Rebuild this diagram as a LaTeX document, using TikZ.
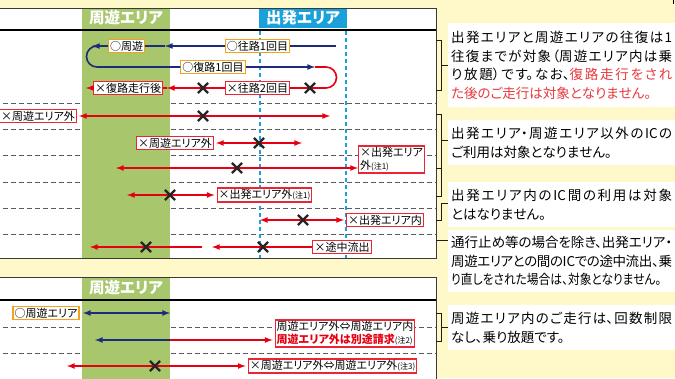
\documentclass[tikz,border=0pt]{standalone}
\usepackage{fontspec}
\setmainfont{Noto Sans CJK JP}[RawFeature=+palt]
\usetikzlibrary{shapes.misc}
\definecolor{bgyellow}{HTML}{FFF8C8}
\definecolor{areagreen}{HTML}{A8C66C}
\definecolor{areablue}{HTML}{1AA0DB}
\definecolor{routenavy}{HTML}{1E2A7A}
\definecolor{routered}{HTML}{E60012}
\definecolor{okorange}{HTML}{F3A31B}
\definecolor{rulegray}{HTML}{3A3A3A}
\definecolor{notered}{HTML}{E8383D}
\newcommand\notesize{\fontsize{8}{9}\selectfont}
\XeTeXlinebreaklocale "ja"
\XeTeXlinebreakskip=0pt plus 3pt minus 2pt

\begin{document}
\begin{tikzpicture}[x=1pt,y=-1pt]
		\tikzstyle{okbox} = [draw=okorange, fill=white, line width=1.1pt, inner sep=1.6pt, font={\fontsize{11}{13}\selectfont}]
		\tikzstyle{ngbox} = [okbox, draw=routered!85]
		\tikzstyle{xmark} = [cross out, draw=black!85, line width=2.2pt, minimum size=8pt, inner sep=0pt]
		\tikzstyle{navyline} = [draw=routenavy, line width=1.6pt]
		\tikzstyle{redline} = [draw=routered, line width=1.6pt]
		\tikzstyle{rowline} = [draw=black!65, dash pattern=on 5pt off 3pt, line width=0.9pt]
		\tikzstyle{arealine} = [draw=areablue, dash pattern=on 4pt off 3pt, line width=1.8pt]
		\tikzstyle{areahead} = [text=white, font={\bfseries\fontsize{15.5}{15.5}\selectfont}, minimum height=20pt, minimum width=88pt, inner sep=0pt]
		\tikzstyle{note} = [fill=white, text width=221pt, align=justify, inner xsep=3pt, inner ysep=0pt, anchor=north west, font={\fontsize{13.5}{18.6}\selectfont}]
		\tikzstyle{notebrace} = [draw=black!80!brown, line width=1pt]

		\useasboundingbox (0,0) rectangle (675,378);
		\clip (0,0) rectangle (675,378);
		\fill[bgyellow] (0,0) rectangle (675,378);
		\draw[black, line width=1pt] (673,0) -- (673,4);

		% upper table
		\fill[white] (-5,8) rectangle (436,258);
		\foreach \y in {103,129,155,182,208,234}
			\draw[rowline] (-5,\y) -- (436,\y);
		\fill[areagreen] (82,8) rectangle (170,258);
		\node[areahead] (tourhead) at (126,18) {周遊エリア};
		\node[areahead, fill=areablue] (dephead) at (303,18) {出発エリア};
		\draw[arealine] (260,31) -- (260,258);
		\draw[arealine] (346,31) -- (346,258);
		\draw[rulegray, line width=1pt] (-5,8) -- (436,8) -- (436,258) -- (-5,258);
		\draw[black, line width=2.5pt] (-5,30) -- (436,30);

		% round trip
		\node[okbox] (okgo1) at (257.5,46) {○往路1回目};
		\node[okbox] (okloop) at (126.5,46) {○周遊};
		\node[okbox] (okback1) at (213,67) {○復路1回目};
		\node[ngbox] (nggo2) at (257.5,88) {×往路2回目};
		\node[ngbox] (ngafter) at (128,88) {×復路走行後};
		\coordinate (go1start) at (336,46);
		\coordinate (go1mid) at (165,46);
		\coordinate (loopend) at (92,46);
		\coordinate (loopturn) at (97,46);
		\coordinate (back1end) at (315,67);
		\coordinate (go2mid) at (167,88);
		\coordinate (go2end) at (86,88);
		\draw[navyline] (go1start) -- (okgo1);
		\draw[navyline, -latex] (okgo1) -- (go1mid);
		\draw[navyline] (go1mid) -- (okloop);
		\draw[navyline, -latex] (okloop) -- (loopend);
		\draw[navyline] (loopturn) arc[start angle=90, end angle=270, radius=10.5pt] -- (okback1);
		\draw[navyline, -latex] (okback1) -- (back1end);
		\draw[redline] (back1end) -- ++(11,0) arc[start angle=90, end angle=-90, radius=10.5pt] -- (nggo2);
		\draw[redline, -latex] (nggo2) -- (go2mid);
		\draw[redline] (go2mid) -- (ngafter);
		\draw[redline, -latex] (ngafter) -- (go2end);

		% other rows
		\node[ngbox] (ngtour1) at (38,116) {×周遊エリア外};
		\coordinate (r2e) at (330,116);
		\draw[redline, latex-latex, shorten <=2pt] (ngtour1) -- (r2e);

		\node[ngbox] (ngtour2) at (175,143) {×周遊エリア外};
		\coordinate (r3e) at (302,143);
		\draw[redline, latex-latex, shorten <=2pt] (ngtour2) -- (r3e);

		\node[ngbox, align=left] (ngdep1) at (391.5,159.5) {×出発エリア\\外{\notesize(注1)}};
		\coordinate (r4w) at (116,168);
		\draw[redline, latex-latex] (r4w) -- (r4w -| ngdep1.west);

		\node[ngbox] (ngdep2) at (264.5,195) {×出発エリア外{\notesize(注1)}};
		\coordinate (r5w) at (127,195);
		\draw[redline, latex-latex, shorten >=2pt] (r5w) -- (ngdep2);

		\node[ngbox] (ngdep3) at (385,220) {×出発エリア内};
		\coordinate (r6w) at (260,220);
		\draw[redline, latex-latex, shorten >=2pt] (r6w) -- (ngdep3);

		\node[ngbox] (ngexit) at (342,247) {×途中流出};
		\coordinate (r7a) at (202,247);
		\coordinate (r7b) at (90,247);
		\coordinate (r7c) at (212,247);
		\draw[redline, -latex] (ngexit) -- (r7c);
		\draw[redline, -latex] (r7a) -- (r7b);

		% lower table
		\fill[white] (-5,277) rectangle (436,385);
		\foreach \y in {327,353}
			\draw[rowline] (-5,\y) -- (436,\y);
		\fill[areagreen] (82,277) rectangle (170,385);
		\node[areahead] (tourhead2) at (126,288) {周遊エリア};
		\draw[rulegray, line width=1pt] (-5,277) -- (436,277) -- (436,385);
		\draw[black, line width=2.5pt] (-5,300) -- (436,300);

		\node[okbox] (oktour) at (46,313) {○周遊エリア};
		\coordinate (b1w) at (83,313);
		\coordinate (b1e) at (170,313);
		\draw[navyline, latex-latex] (b1w) -- (b1e);

		\node[ngbox, align=left] (ngcharge) at (345,333.5) {周遊エリア外⇔周遊エリア内\\{\color{routered}\bfseries 周遊エリア外は別途請求}{\notesize(注2)}};
		\coordinate (b2w) at (95,340);
		\coordinate (b2m) at (170,340);
		\draw[navyline, -latex] (b2m) -- (b2w);
		\draw[redline, -latex, shorten >=2pt] (b2m) -- (b2m -| ngcharge.west);

		\node[ngbox] (ngtour3) at (332.5,366) {×周遊エリア外⇔周遊エリア外{\notesize(注3)}};
		\coordinate (b3w) at (67,366);
		\draw[redline, latex-latex, shorten >=2pt] (b3w) -- (ngtour3);

		% crosses
		\foreach \p in {(203,88),(310,88),(203,116),(259,143),(237,168),(170,195),(303,220),(146,247),(263,247),(155,366)}
			\node[xmark] at \p {};

		% notes
		\node[note, minimum height=84pt] (note1) at (448,23) {出発エリアと周遊エリアの往復は1\linebreak 往復までが対象（周遊エリア内は乗\linebreak り放題）です。なお、{\color{notered}復路走行をされ\linebreak た後のご走行は対象となりません。}};
		\node[note, minimum height=45pt] (note2) at (448,120) {出発エリア・周遊エリア以外のICの\linebreak ご利用は対象となりません。};
		\node[note, minimum height=45pt] (note3) at (448,182) {出発エリア内のIC間の利用は対象\linebreak とはなりません。};
		\node[note, minimum height=62pt] (note4) at (448,230) {通行止め等の場合を除き、出発エリア・\linebreak 周遊エリアとの間のICでの途中流出、乗\linebreak \scalebox{0.87}[1]{り直しをされた場合は、対象となりません。}};
		\node[note, minimum height=45pt] (note5) at (448,305) {周遊エリア内のご走行は、回数制限\linebreak なし、乗り放題です。};

		% brackets
		\draw[notebrace] (436,40) -- (441,40) -- (441,90) -- (436,90) (441,65) -- (441,65 -| note1.west);
		\draw[notebrace] (436,114) -- (441,114) -- (441,196) -- (436,196) (436,168) -- (441,168) (441,140) -- (441,140 -| note2.west);
		\draw[notebrace] (436,220) -- (441,220) -- (441,203) -- (441,203 -| note3.west);
		\draw[notebrace] (436,240) -- (436,240 -| note4.west);
		\draw[notebrace] (436,313) -- (441,313) -- (441,341) -- (436,341) (441,327) -- (441,327 -| note5.west);
	\end{tikzpicture}
\end{document}
